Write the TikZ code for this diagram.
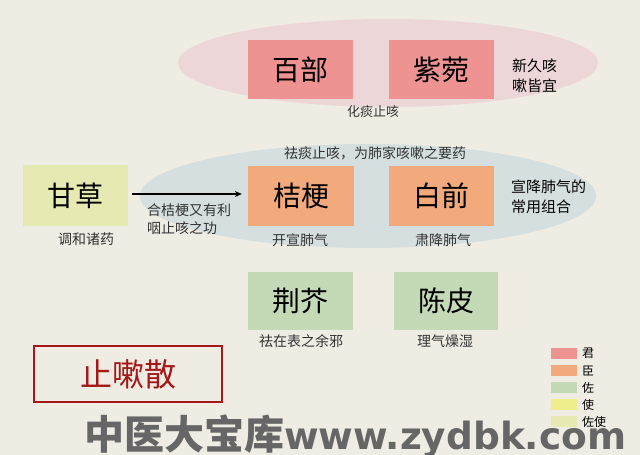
\documentclass[tikz,border=0pt]{standalone}
\usepackage{fontspec}
\setmainfont{Liberation Serif}
\newfontfamily\cjk{Noto Sans CJK SC}
\newfontfamily\wmfont{DejaVu Sans}
\usetikzlibrary{arrows.meta}
\definecolor{bg}{HTML}{EEECE3}
\definecolor{pinkell}{HTML}{EDD6D8}
\definecolor{blueell}{HTML}{D6DFDF}
\definecolor{jun}{HTML}{EE9292}
\definecolor{chen}{HTML}{F2AA7C}
\definecolor{zuo}{HTML}{C4D9B6}
\definecolor{shi}{HTML}{EEEE8A}
\definecolor{zuoshi}{HTML}{E6EAB2}
\definecolor{titlered}{HTML}{A51818}
\definecolor{wmgray}{HTML}{666666}
\definecolor{labelgray}{HTML}{333333}
\tikzset{
  herb/.style={inner sep=0pt, font=\cjk\fontsize{28}{30}\selectfont, text=black},
  lbl/.style={inner sep=0pt, font=\cjk\fontsize{14}{16}\selectfont, text=labelgray},
  note/.style={inner sep=0pt, align=left, font=\cjk\fontsize{15}{20}\selectfont, text=black},
  legbox/.style={inner sep=0pt, minimum width=26pt, minimum height=11pt},
  legtxt/.style={inner sep=0pt, anchor=west, font=\cjk\fontsize{12}{13}\selectfont, text=black}
}
\begin{document}
\begin{tikzpicture}[x=1pt,y=-1pt]
\useasboundingbox (0,0) rectangle (640,455);
\fill[bg] (0,0) rectangle (640,455);
% ellipses
\fill[pinkell] (388,63) ellipse [x radius=210, y radius=44];
\fill[blueell] (368,196) ellipse [x radius=228, y radius=52];
% top row
\node[herb, fill=jun, minimum width=105pt, minimum height=59pt] (baibu) at (300.5,69.5) {百部};
\node[herb, fill=jun, minimum width=105pt, minimum height=59pt] (ziwan) at (441.5,69.5) {紫菀};
\node[note, anchor=west] (n1) at (512,76) {新久咳\\嗽皆宜};
\node[lbl, font=\cjk\fontsize{13}{15}\selectfont] (l1) at (373,112) {化痰止咳};
% middle row
\node[lbl] (l2) at (375,153) {祛痰止咳，为肺家咳嗽之要药};
\node[herb, fill=zuoshi, minimum width=105pt, minimum height=61pt] (gancao) at (75.5,195.5) {甘草};
\node[herb, fill=chen, minimum width=106pt, minimum height=60pt] (jiegeng) at (301,196) {桔梗};
\node[herb, fill=chen, minimum width=105pt, minimum height=60pt] (baiqian) at (441.5,196) {白前};
\node[note, anchor=west] (n2) at (511,197) {宣降肺气的\\常用组合};
\draw[line width=1.3pt, -{Stealth[length=7pt,width=6pt]}, shorten <=4pt, shorten >=6pt] (gancao.east |- 0,194) coordinate (a1) -- (jiegeng.west |- 0,194) coordinate (a2);
\node[lbl, anchor=west, align=left, font=\cjk\fontsize{14}{18}\selectfont] (l3) at (147,219) {合桔梗又有利\\咽止咳之功};
\node[lbl] (l4) at (86,239) {调和诸药};
\node[lbl] (l5) at (300,240) {开宣肺气};
\node[lbl] (l6) at (443,240) {肃降肺气};
% bottom row
\node[herb, fill=zuo, minimum width=105pt, minimum height=58pt] (jingjie) at (300.5,301) {荆芥};
\node[herb, fill=zuo, minimum width=104pt, minimum height=58pt] (chenpi) at (446,301) {陈皮};
\node[lbl] (l7) at (301,341) {祛在表之余邪};
\node[lbl] (l8) at (445,341) {理气燥湿};
% title
\node[draw=titlered, line width=2.7pt, minimum width=188pt, minimum height=56pt, inner sep=0pt, text=titlered, font=\cjk\fontsize{32}{34}\selectfont] (title) at (128,374) {止嗽散};
% legend
\node[legbox, fill=jun] (k1) at (564,353.5) {};
\node[legbox, fill=chen] (k2) at (564,370.5) {};
\node[legbox, fill=zuo] (k3) at (564,387.5) {};
\node[legbox, fill=shi] (k4) at (564,404.5) {};
\node[legbox, fill=zuoshi] (k5) at (564,421.5) {};
\node[legtxt] (t1) at (582,353.5) {君};
\node[legtxt] (t2) at (582,370.5) {臣};
\node[legtxt] (t3) at (582,387.5) {佐};
\node[legtxt] (t4) at (582,404.5) {使};
\node[legtxt] (t5) at (582,421.5) {佐使};
% watermark
\node[inner sep=0pt, anchor=west, text=wmgray] (wm) at (84,436) {{\cjk\bfseries\fontsize{40}{42}\selectfont 中医大宝库}{\wmfont\bfseries\fontsize{37.5}{40}\selectfont www.zydbk.com}};
\end{tikzpicture}
\end{document}
